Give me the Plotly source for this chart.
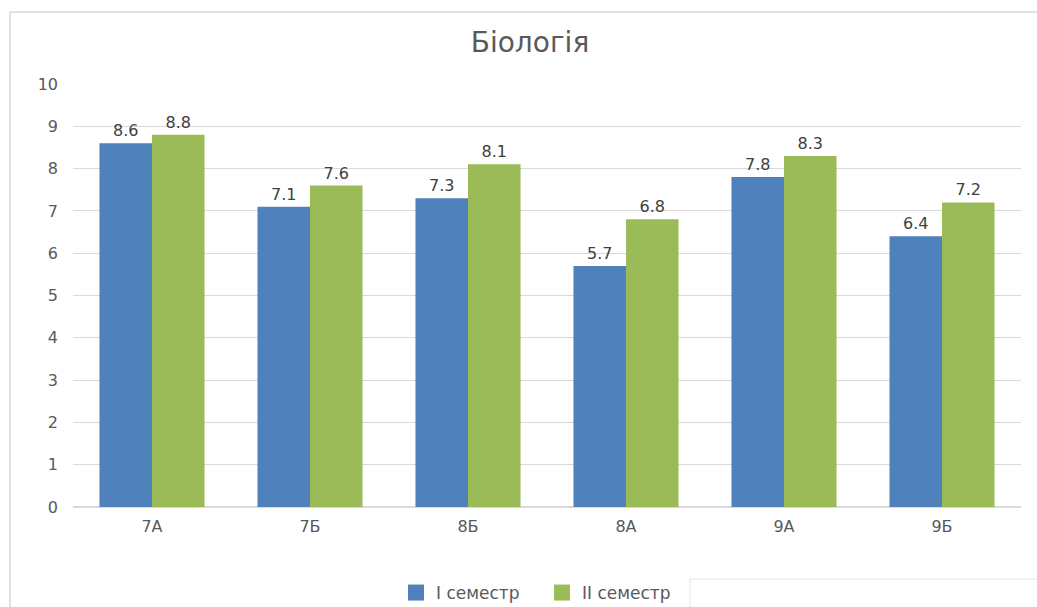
import plotly.graph_objects as go

categories = ["7А", "7Б", "8Б", "8А", "9А", "9Б"]
sem1 = [8.6, 7.1, 7.3, 5.7, 7.8, 6.4]
sem2 = [8.8, 7.6, 8.1, 6.8, 8.3, 7.2]
series_names = ["I семестр", "II семестр"]
colors = ["#4F81BD", "#9BBB59"]
title_text = "Біологія"

W, H = 1037, 607
L, R, T, B = 73, 16, 84, 100
PW, PH = W - L - R, H - T - B
FONT = "DejaVu Sans, sans-serif"
TXT = "#595959"


def px_x(x):
    return (x - L) / PW


def px_y(y):
    return (H - B - y) / PH


fig = go.Figure()
for name, vals, col in zip(series_names, [sem1, sem2], colors):
    fig.add_trace(go.Bar(
        x=categories, y=vals, name=name, marker=dict(color=col, line=dict(width=0)),
        text=[f"{v:.1f}" for v in vals], textposition="outside",
        textfont=dict(size=16, color="#404040", family=FONT), cliponaxis=False,
        showlegend=False, legendgroup=name,
    ))
for name, col in zip(series_names, colors):
    fig.add_trace(go.Scatter(
        x=[None], y=[None], mode="markers", name=name, legendgroup=name,
        marker=dict(symbol="square", size=19, color=col),
    ))

fig.update_layout(
    width=W, height=H,
    margin=dict(l=L, r=R, t=T, b=B, autoexpand=False),
    paper_bgcolor="white", plot_bgcolor="white",
    barmode="group", bargap=0.335, bargroupgap=0,
    title=dict(text=title_text, x=530 / W, xanchor="center",
               y=1 - 42 / H, yanchor="middle",
               font=dict(size=28, color=TXT, family=FONT)),
    xaxis=dict(showgrid=False, showline=False, ticks="", tickfont=dict(size=16, color=TXT, family=FONT),
               ticklabelstandoff=8),
    yaxis=dict(range=[0, 10], dtick=1, showgrid=True, gridcolor="#D9D9D9", gridwidth=1,
               zeroline=True, zerolinecolor="#D9D9D9", showline=False, ticks="",
               tickfont=dict(size=16, color=TXT, family=FONT), ticklabelstandoff=14),
    legend=dict(orientation="h", x=px_x(396), xanchor="left", y=px_y(593),
                yanchor="middle", font=dict(size=17, color=TXT, family=FONT),
                bgcolor="rgba(0,0,0,0)",
                tracegroupgap=0, itemwidth=30, entrywidth=101, entrywidthmode="pixels"),
    shapes=[
        dict(type="line", xref="paper", yref="paper", x0=px_x(10), x1=px_x(10),
             y0=px_y(610), y1=px_y(12), line=dict(color="#E0E0E0", width=2)),
        dict(type="line", xref="paper", yref="paper", x0=px_x(10), x1=px_x(1040),
             y0=px_y(12), y1=px_y(12), line=dict(color="#E0E0E0", width=2)),
        dict(type="rect", xref="paper", yref="paper", x0=px_x(690), x1=px_x(1045),
             y0=px_y(612), y1=px_y(579), line=dict(color="#E6E6E6", width=1)),
    ],
)
fig.write_html("out.html", config={"displayModeBar": False},
               post_script="document.body.style.margin='0';document.body.style.overflow='hidden';")
